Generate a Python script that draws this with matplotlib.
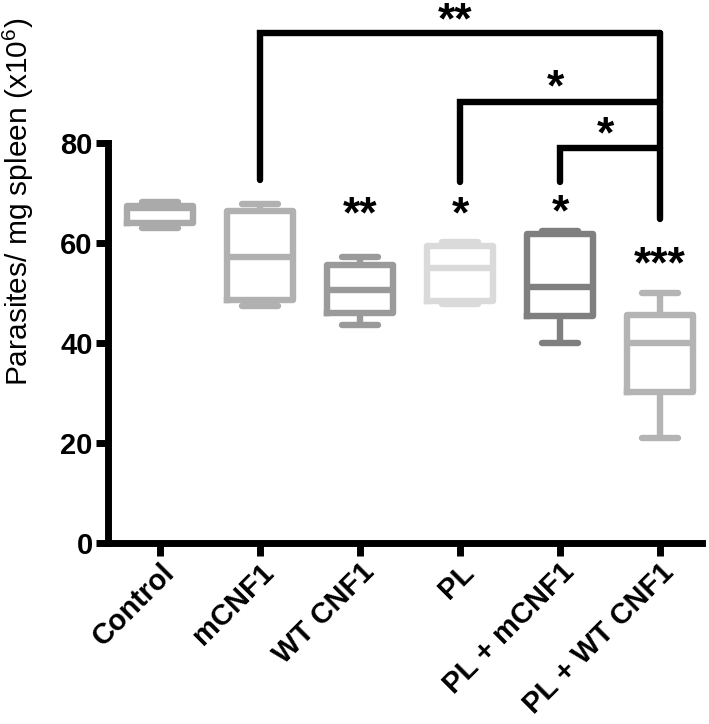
import matplotlib
matplotlib.use("Agg")
import matplotlib.pyplot as plt
import matplotlib.transforms as mtransforms

plt.rcParams['font.family'] = ['Liberation Sans', 'DejaVu Sans']
plt.rcParams['mathtext.fontset'] = 'custom'
plt.rcParams['mathtext.rm'] = 'Liberation Sans'
plt.rcParams['mathtext.it'] = 'Liberation Sans'

groups = ['Control', 'mCNF1', 'WT CNF1', 'PL', 'PL + mCNF1', 'PL + WT CNF1']
whislo = [63.0, 47.5, 43.6, 47.9, 40.0, 21.0]
q1 = [64.0, 48.6, 46.1, 48.5, 45.5, 30.3]
med = [67.0, 57.3, 50.7, 55.0, 51.2, 40.0]
q3 = [67.5, 66.4, 55.7, 59.5, 61.9, 45.7]
whishi = [68.3, 67.9, 57.2, 60.3, 62.4, 50.1]
colors = ['#aaaaaa', '#b1b1b1', '#9a9a9a', '#dadada', '#7f7f7f', '#b4b4b4']

box_stars = ['', '', '**', '*', '*', '***']
box_star_y = [0, 0, 63.2, 63.2, 63.6, 53.2]

# brackets: (left group, right group, height, left foot, star label, star y)
brackets = [(1, 5, 102.0, 72.6, '**', 101.9),
            (3, 5, 88.2, 72.2, '*', 88.6),
            (4, 5, 79.0, 72.2, '*', 79.2)]
right_foot = 64.8

fig = plt.figure(figsize=(7.09, 7.24), dpi=100)
ax = fig.add_axes([108/709, 181/724, 594/709, 400/724])

lw = 4.6
stats = []
for i, g in enumerate(groups):
    stats.append(dict(label=g, whislo=whislo[i], q1=q1[i], med=med[i],
                      q3=q3[i], whishi=whishi[i], fliers=[]))
positions = list(range(len(groups)))
for i, s in enumerate(stats):
    c = colors[i]
    ax.bxp([s], positions=[positions[i]], widths=0.66, capwidths=0.36,
           showfliers=False, manage_ticks=False,
           boxprops=dict(color=c, linewidth=lw, solid_joinstyle='round'),
           medianprops=dict(color=c, linewidth=lw, solid_capstyle='butt'),
           whiskerprops=dict(color=c, linewidth=lw, solid_capstyle='butt'),
           capprops=dict(color=c, linewidth=lw, solid_capstyle='round'))

star_fs = 32
for i, st in enumerate(box_stars):
    if st:
        ax.text(positions[i], box_star_y[i], st, ha='center', va='baseline',
                fontsize=star_fs, fontweight='bold')

blw = 4.6
for (l, r, h, foot, st, sy) in brackets:
    ax.plot([l, l, r], [foot, h, h], color='black', lw=blw, clip_on=False,
            solid_capstyle='round', solid_joinstyle='miter')
    ax.text((l + r) / 2 - 0.05, sy, st, ha='center', va='baseline',
            fontsize=star_fs, fontweight='bold')
ax.plot([5, 5], [max(b[2] for b in brackets), right_foot], color='black',
        lw=blw, clip_on=False, solid_capstyle='round')

ax.set_xlim(-0.52, 5.42)
ax.set_ylim(0, 80)
ax.set_yticks([0, 20, 40, 60, 80])
ax.set_xticks(positions)
ax.set_xticklabels(groups, rotation=45, ha='right', rotation_mode='anchor',
                   fontsize=21, fontweight='bold')
offset = mtransforms.ScaledTranslation(-6/100, -3/100, fig.dpi_scale_trans)
for t in ax.get_xticklabels():
    t.set_transform(t.get_transform() + offset)
for t in ax.get_yticklabels():
    t.set_fontsize(21)
    t.set_fontweight('bold')
ax.spines['top'].set_visible(False)
ax.spines['right'].set_visible(False)
ax.spines['left'].set_linewidth(5)
ax.spines['bottom'].set_linewidth(5)
ax.tick_params(axis='both', width=5, length=9, pad=2)
ax.set_ylabel('Parasites/ mg spleen (x10$^{6}$)', fontsize=21.5)
ax.yaxis.set_label_coords(-72/594, 0.852)

fig.savefig('out.png', dpi=100)
